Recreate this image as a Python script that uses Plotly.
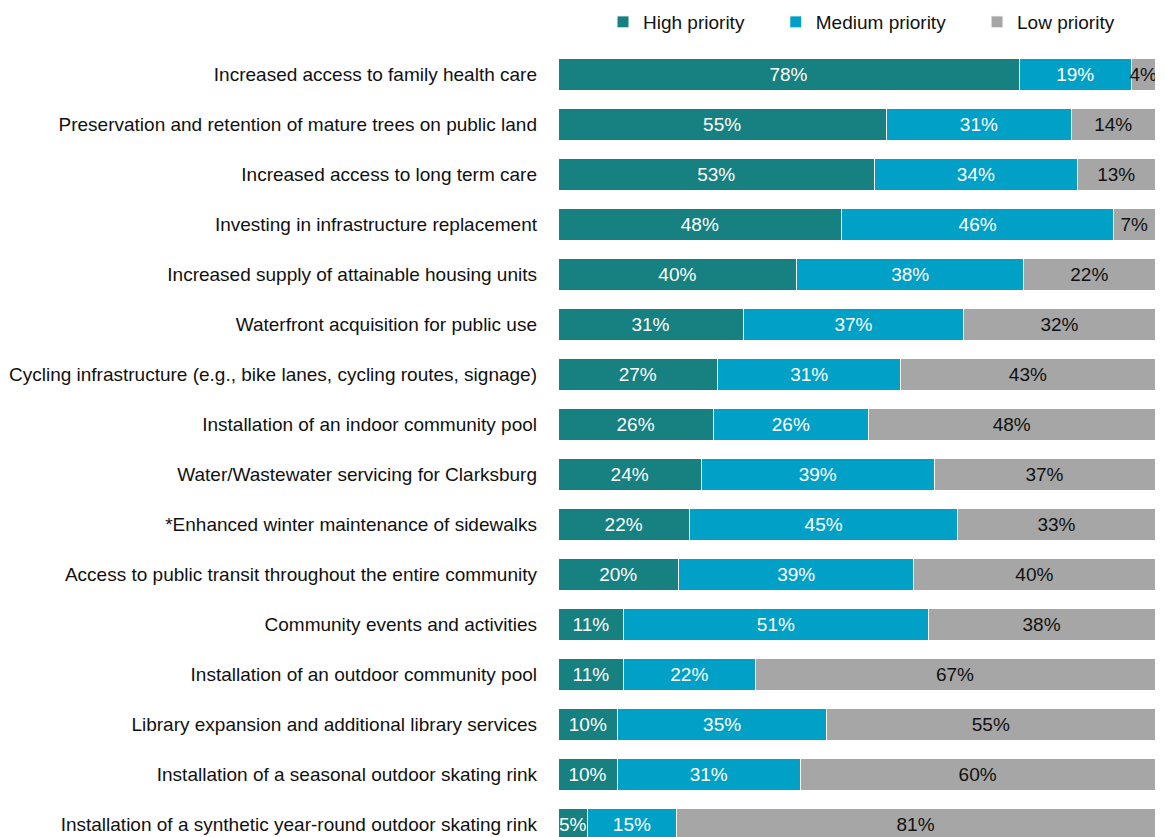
import plotly.graph_objects as go

categories = [
    "Increased access to family health care",
    "Preservation and retention of mature trees on public land",
    "Increased access to long term care",
    "Investing in infrastructure replacement",
    "Increased supply of attainable housing units",
    "Waterfront acquisition for public use",
    "Cycling infrastructure (e.g., bike lanes, cycling routes, signage)",
    "Installation of an indoor community pool",
    "Water/Wastewater servicing for Clarksburg",
    "*Enhanced winter maintenance of sidewalks",
    "Access to public transit throughout the entire community",
    "Community events and activities",
    "Installation of an outdoor community pool",
    "Library expansion and additional library services",
    "Installation of a seasonal outdoor skating rink",
    "Installation of a synthetic year-round outdoor skating rink",
]
high = [78, 55, 53, 48, 40, 31, 27, 26, 24, 22, 20, 11, 11, 10, 10, 5]
medium = [19, 31, 34, 46, 38, 37, 31, 26, 39, 45, 39, 51, 22, 35, 31, 15]
low = [4, 14, 13, 7, 22, 32, 43, 48, 37, 33, 40, 38, 67, 55, 60, 81]

FONT = "Arial Narrow, Liberation Sans Narrow, Liberation Sans, Arial, sans-serif"
PAD = "\u00a0" * 5  # extra room after a legend entry

series = [
    ("High priority", high, "#168180", "white", PAD),
    ("Medium priority", medium, "#01A0C6", "white", PAD),
    ("Low priority", low, "#A6A6A6", "#111111", ""),
]

fig = go.Figure()
for name, vals, color, tcolor, pad in series:
    fig.add_trace(go.Bar(
        y=categories, x=vals, name=name + pad, orientation="h",
        marker=dict(color=color, line=dict(color="white", width=1)),
        text=[f"{v}%" for v in vals],
        textposition="inside", insidetextanchor="middle", textangle=0,
        textfont=dict(color=tcolor, size=19, family=FONT),
        constraintext="none",
        hovertemplate="%{y}<br>%{text}<extra>" + name + "</extra>",
    ))

fig.update_layout(
    width=1165, height=837,
    barmode="stack", barnorm="percent", bargap=0.36,
    margin=dict(l=558, r=10, t=49, b=0, autoexpand=False),
    paper_bgcolor="white", plot_bgcolor="white",
    font=dict(family=FONT, size=19, color="#111111"),
    uniformtext=dict(minsize=19, mode="show"),
    legend=dict(
        orientation="h", xanchor="left", x=0.0754, y=0.9964, yanchor="top",
        yref="container", font=dict(size=19), traceorder="normal",
        itemwidth=30, bgcolor="rgba(0,0,0,0)",
    ),
    showlegend=True,
)
fig.update_xaxes(range=[0, 100], visible=False, fixedrange=True)
fig.update_yaxes(
    categoryorder="array", categoryarray=categories[::-1],
    range=[-0.26, 15.5], showgrid=False, showline=False, zeroline=False,
    ticks="", ticklabelstandoff=20, automargin=False,
    tickfont=dict(size=19, color="#111111"),
)

# page default body margin would shift the chart by 8px
fig.write_html("out.html", config={"displayModeBar": False},
               post_script="document.body.style.margin='0';")
